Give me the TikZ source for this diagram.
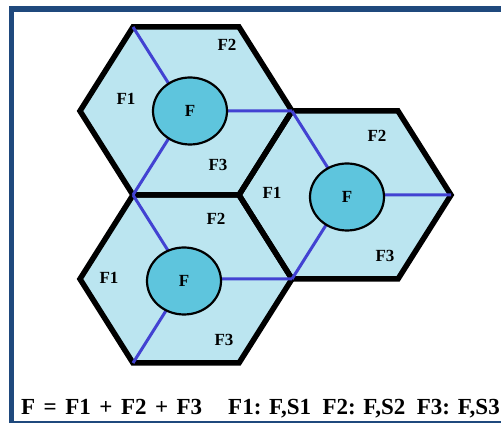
\documentclass[tikz,border=0pt]{standalone}
\usepackage{fontspec}
\setmainfont{Liberation Serif}
\usetikzlibrary{shapes.geometric}

\definecolor{cellfill}{RGB}{187,229,240}
\definecolor{basefill}{RGB}{94,197,221}
\definecolor{spokeblue}{RGB}{66,66,210}
\definecolor{frameblue}{RGB}{31,73,125}

\tikzset{
  cell/.style={line width=5.5pt, line join=miter},
  spoke/.style={spokeblue, line width=3pt},
  base/.style={ellipse, draw, line width=2.2pt, fill=basefill, minimum width=74pt, minimum height=67pt, inner sep=0pt, font=\fontsize{17}{19}\selectfont\bfseries},
  lbl/.style={font=\fontsize{17}{19}\selectfont\bfseries, inner sep=0pt},
  note/.style={font=\fontsize{23}{25}\selectfont\bfseries, inner sep=0pt, anchor=base west}
}

\begin{document}
\begin{tikzpicture}[x=1pt, y=1pt, line cap=butt]
  \useasboundingbox (0,0) rectangle (501,423);
  % frame
  \fill[frameblue] (9,411) rectangle (501,417);
  \fill[frameblue] (9,0) rectangle (13.5,417);
  \fill[frameblue] (9,0) rectangle (501,2);

  % cell centres
  \coordinate (h1) at (186,312);
  \coordinate (h2) at (345,228);
  \coordinate (h3) at (186,144);

  \foreach \c in {h1,h2,h3}
    \fill[cellfill, shift={(\c)}] (106,0) -- (53,84) -- (-53,84) -- (-106,0) -- (-53,-84) -- (53,-84) -- cycle;
  \foreach \c in {h1,h2,h3}
    \draw[cell, shift={(\c)}] (106,0) -- (53,84) -- (-53,84) -- (-106,0) -- (-53,-84) -- (53,-84) -- cycle;
  \foreach \c in {h1,h2,h3}
    \draw[spoke, shift={(\c)}] (-53,84) -- (0,0) -- (106,0) (0,0) -- (-53,-84);

  % base stations
  \node[base] (b1) at (190,312) {F};
  \node[base] (b2) at (347,226) {F};
  \node[base] (b3) at (184,142) {F};

  % sectors
  \foreach \name/\x/\y/\txt in {a1/126/324/F1, a2/227/378/F2, a3/218/258/F3,
                                 c1/272/230/F1, c2/377/287/F2, c3/385/167/F3,
                                 d1/109/145/F1, d2/216/204/F2, d3/224/83/F3}
    \node[lbl] (\name) at (\x,\y) {\txt};

  \node[note] (sum) at (21,8) {\spaceskip=8.5pt F = F1 + F2 + F3};
  \node[note] (key) at (228,8) {F1: F,S1\hspace{0.5em}F2: F,S2\hspace{0.5em}F3: F,S3};
\end{tikzpicture}
\end{document}
